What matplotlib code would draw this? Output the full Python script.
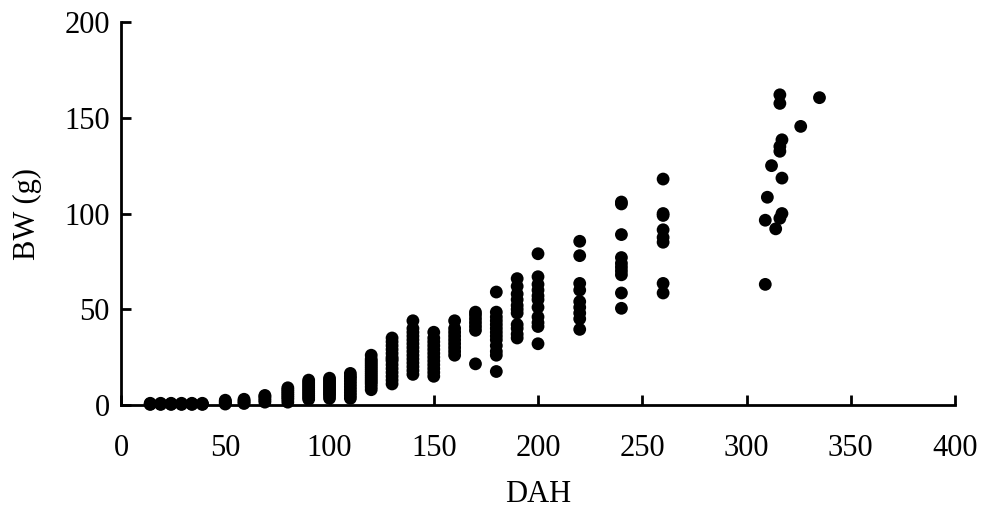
import matplotlib.pyplot as plt

# Age groups (days after hatching) and body weight readings per group
dah_groups = [14, 19, 24, 29, 34, 39, 50, 59, 69, 80, 90, 100, 110, 120, 130, 140, 150, 160, 170, 180, 190, 200, 220, 240, 260]
bw_groups = [
    [0.3, 0.6, 0.9],
    [0.3, 0.6, 0.9],
    [0.3, 0.6, 0.9],
    [0.3, 0.6, 0.9],
    [0.3, 0.6, 0.9],
    [0.3, 0.6, 0.9],
    [0.5, 1.0, 1.5, 2.0, 2.5],
    [0.8, 1.5, 2.2, 3.0],
    [1.5, 2.5, 3.5, 4.5, 5.0],
    [1.5, 3, 4, 5, 6, 7, 8, 9],
    [3, 4, 5, 6, 7, 8, 9, 10, 11, 12, 13],
    [3.5, 5, 6, 7, 8, 9, 10, 11, 12, 13, 14],
    [3.5, 5, 6.5, 8, 9.5, 11, 12.5, 14, 15, 16.5],
    [8, 9.5, 11, 12, 13, 14, 15, 16, 17, 18, 19, 20, 21, 22, 23, 24, 26],
    [11, 13, 15, 17, 19, 21, 23, 24, 25, 27, 29, 31, 33, 35],
    [16, 18, 20, 22, 24, 26, 28, 30, 32, 34, 36, 38, 40, 44],
    [15, 17, 19, 21, 23, 25, 27, 29, 31, 33, 35, 38],
    [26, 28, 30, 32, 34, 36, 38, 40, 44],
    [21.5, 39, 41, 43, 45, 47, 48.5],
    [17.5, 26, 28, 31, 34, 36, 38, 40, 42, 44, 46, 48.5, 59],
    [35, 37, 40, 42, 48, 50, 52, 55, 58, 62, 66],
    [32, 41, 43, 46, 51, 55, 57, 60, 63, 67, 79],
    [39.5, 45, 48, 51, 54, 60, 63.5, 78, 85.5],
    [50.5, 58.5, 68, 70, 72, 74, 77, 89, 105, 106],
    [58.5, 63.5, 85, 87.5, 91.5, 99, 100, 118],
]

# Oldest fish, sampled individually
dah_late = [316, 316, 335, 326, 317, 316, 316, 312, 317, 310, 317, 316, 309, 314, 309]
bw_late = [162, 157.5, 160.5, 145.5, 138.5, 135, 132.5, 125, 118.5, 108.5, 100, 97.5, 96.5, 92, 63]

plt.rcParams['font.family'] = 'Liberation Serif'

fig = plt.figure(figsize=(9.88, 5.17), dpi=100)
ax = fig.add_axes([0.1225, 0.2166, 0.8441, 0.7408])

xs, ys = [], []
for d, vals in zip(dah_groups, bw_groups):
    xs += [d] * len(vals)
    ys += vals
xs += dah_late
ys += bw_late

ax.scatter(xs, ys, s=85, color='black', edgecolors='none', clip_on=False, zorder=3)

ax.set_xlim(0, 400)
ax.set_ylim(0, 200)
ax.set_xticks(range(0, 401, 50))
ax.set_yticks(range(0, 201, 50))
ax.spines['top'].set_visible(False)
ax.spines['right'].set_visible(False)
for sp in ('left', 'bottom'):
    ax.spines[sp].set_linewidth(2.0)
ax.tick_params(direction='in', length=7, width=2.0, labelsize=22)
ax.tick_params(axis='x', pad=21)
ax.tick_params(axis='y', pad=8)

ax.set_xlabel('DAH', fontsize=22, labelpad=12)
ax.set_ylabel('BW (g)', fontsize=22, labelpad=16)

plt.savefig('out.png', dpi=100)
